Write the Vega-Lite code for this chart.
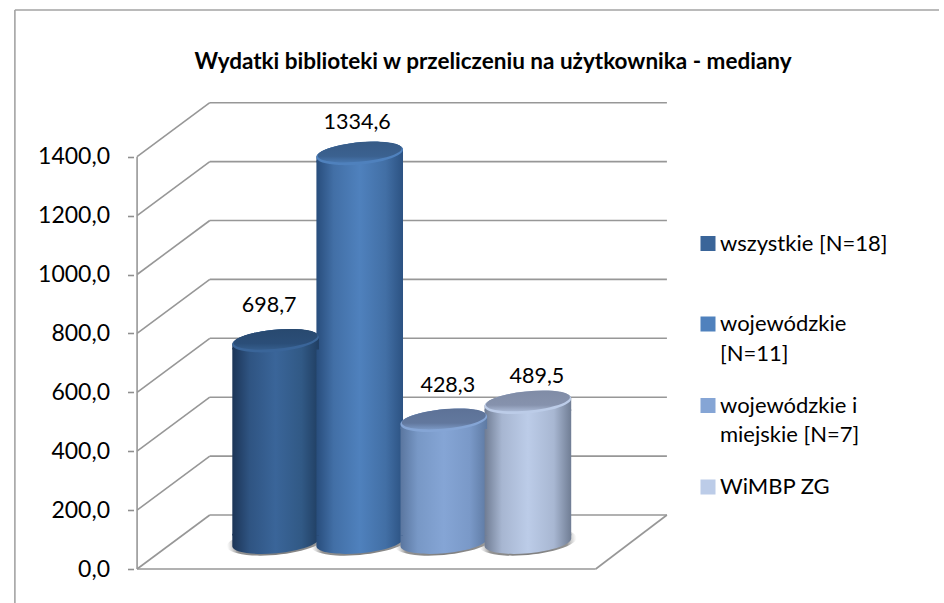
{"$schema":"https://vega.github.io/schema/vega-lite/v6.json","width":944,"height":603,"autosize":"none","padding":0,"background":"white","config":{"view":{"stroke":null},"font":"Lato"},
"title":{"text":"Wydatki biblioteki w przeliczeniu na użytkownika - mediany","font":"Lato","fontSize":22.5,"fontWeight":"bold","color":"#000000","anchor":"middle","dx":21,"dy":77},
"datasets":{"bars":[{"pos":1,"series":"wszystkie [N=18]","value":698.7,"label":"698,7","base":0},{"pos":2,"series":"wojewódzkie [N=11]","value":1334.6,"label":"1334,6","base":0},{"pos":3,"series":"wojewódzkie i miejskie [N=7]","value":428.3,"label":"428,3","base":0},{"pos":4,"series":"WiMBP ZG","value":489.5,"label":"489,5","base":0}],"ticks":[{"v":0},{"v":200},{"v":400},{"v":600},{"v":800},{"v":1000},{"v":1200},{"v":1400}],"floor":[{"v":0}],"top":[{"v":1898}]},
"layer":[
{"data":{"name":"top"},"mark":{"type":"rule","color":"#a3a3a3","strokeWidth":1.6},"encoding":{"y":{"field":"v","type":"quantitative","scale":{"domain":[-115.45,1932.1],"nice":false,"zero":false},"axis":{"values":[0,200,400,600,800,1000,1200,1400],"title":null,"offset":-133.5,"grid":false,"domain":false,"tickSize":6,"tickColor":"#8f8f8f","tickWidth":1.6,"labelFont":"Lato","labelFontSize":23,"labelColor":"#000000","labelPadding":18,"labelExpr":"replace(format(datum.value,'.1f'),'.',',')"}},"x":{"datum":-2.1,"type":"quantitative","scale":{"domain":[-2.2176,8.888],"nice":false,"zero":false},"axis":null},"x2":{"datum":8.888}}},
{"data":{"name":"top"},"mark":{"type":"rule","color":"#a3a3a3","strokeWidth":1.6},"encoding":{"y":{"field":"v","type":"quantitative"},"y2":{"datum":-115.45},"x":{"datum":-2.1,"type":"quantitative"}}},
{"data":{"name":"ticks"},"mark":{"type":"rule","color":"#979797","strokeWidth":1.6,"yOffset":-54},"encoding":{"y":{"field":"v","type":"quantitative"},"x":{"datum":0.2176,"type":"quantitative"},"x2":{"datum":5.6529}}},
{"data":{"name":"ticks"},"mark":{"type":"rule","color":"#979797","strokeWidth":1.6,"y2Offset":-54},"encoding":{"y":{"field":"v","type":"quantitative"},"y2":{"field":"v"},"x":{"datum":-0.6471,"type":"quantitative"},"x2":{"datum":0.2176}}},
{"data":{"name":"floor"},"mark":{"type":"rule","color":"#979797","strokeWidth":1.6},"encoding":{"y":{"field":"v","type":"quantitative"},"x":{"datum":-0.6471,"type":"quantitative"},"x2":{"datum":4.8059}}},
{"data":{"name":"floor"},"mark":{"type":"rule","color":"#979797","strokeWidth":1.6,"y2Offset":-54},"encoding":{"y":{"field":"v","type":"quantitative"},"y2":{"field":"v"},"x":{"datum":4.8059,"type":"quantitative"},"x2":{"datum":5.6529}}},
{"data":{"name":"floor"},"mark":{"type":"rule","color":"#979797","strokeWidth":1.6},"encoding":{"y":{"field":"v","type":"quantitative"},"y2":{"datum":1400},"x":{"datum":-0.6471,"type":"quantitative"}}},
{"data":{"name":"bars"},"mark":{"type":"point","filled":true,"opacity":1,"strokeWidth":0,"shape":"M-0.9955,0.094A1,0.26,-5.4,1,1,0.9955,-0.094A1,0.26,-5.4,1,1,-0.9955,0.094Z","size":9600,"yOffset":-27,"fill":{"gradient":"radial","x1":0.5,"y1":0.5,"r1":0,"x2":0.5,"y2":0.5,"r2":0.5,"stops":[{"offset":0,"color":"rgba(95,95,95,0.85)"},{"offset":0.8,"color":"rgba(110,110,110,0.75)"},{"offset":1,"color":"rgba(170,170,170,0)"}]}},"encoding":{"x":{"field":"pos","type":"quantitative"},"y":{"field":"base","type":"quantitative"}}},
{"data":{"name":"bars"},"mark":{"type":"point","filled":true,"opacity":1,"strokeWidth":0,"shape":"M-0.9955,-0.2L0.9955,-0.2L0.9955,-0.094A1,0.25,-5.4,0,1,-0.9955,0.094Z","size":7569,"yOffset":-26.5},"encoding":{"x":{"field":"pos","type":"quantitative"},"y":{"field":"base","type":"quantitative"},"fill":{"condition":[
{"test":"datum.pos==1","value":{"gradient":"linear","x1":0,"y1":0,"x2":1,"y2":0,"stops":[{"offset":0,"color":"#1c3557"},{"offset":0.2,"color":"#2f5482"},{"offset":0.5,"color":"#3a6599"},{"offset":0.8,"color":"#315985"},{"offset":1,"color":"#203e62"}]}},
{"test":"datum.pos==2","value":{"gradient":"linear","x1":0,"y1":0,"x2":1,"y2":0,"stops":[{"offset":0,"color":"#284d7c"},{"offset":0.2,"color":"#426fa6"},{"offset":0.5,"color":"#4f81bd"},{"offset":0.8,"color":"#426fa5"},{"offset":1,"color":"#2c5282"}]}},
{"test":"datum.pos==3","value":{"gradient":"linear","x1":0,"y1":0,"x2":1,"y2":0,"stops":[{"offset":0,"color":"#5a769f"},{"offset":0.2,"color":"#7898c6"},{"offset":0.5,"color":"#85a5d5"},{"offset":0.8,"color":"#7a99c8"},{"offset":1,"color":"#5e7aa3"}]}}],
"value":{"gradient":"linear","x1":0,"y1":0,"x2":1,"y2":0,"stops":[{"offset":0,"color":"#6f7c93"},{"offset":0.2,"color":"#a7b6d1"},{"offset":0.5,"color":"#bccce8"},{"offset":0.8,"color":"#a8b7d2"},{"offset":1,"color":"#707d94"}]}}}},
{"data":{"name":"bars"},"mark":{"type":"bar","width":86.6,"yOffset":-15.5,"y2Offset":-33.5},"encoding":{"x":{"field":"pos","type":"quantitative"},"y":{"field":"value","type":"quantitative"},"y2":{"field":"base"},"fill":{"condition":[
{"test":"datum.pos==1","value":{"gradient":"linear","x1":0,"y1":0,"x2":1,"y2":0,"stops":[{"offset":0,"color":"#1c3557"},{"offset":0.2,"color":"#2f5482"},{"offset":0.5,"color":"#3a6599"},{"offset":0.8,"color":"#315985"},{"offset":1,"color":"#203e62"}]}},
{"test":"datum.pos==2","value":{"gradient":"linear","x1":0,"y1":0,"x2":1,"y2":0,"stops":[{"offset":0,"color":"#284d7c"},{"offset":0.2,"color":"#426fa6"},{"offset":0.5,"color":"#4f81bd"},{"offset":0.8,"color":"#426fa5"},{"offset":1,"color":"#2c5282"}]}},
{"test":"datum.pos==3","value":{"gradient":"linear","x1":0,"y1":0,"x2":1,"y2":0,"stops":[{"offset":0,"color":"#5a769f"},{"offset":0.2,"color":"#7898c6"},{"offset":0.5,"color":"#85a5d5"},{"offset":0.8,"color":"#7a99c8"},{"offset":1,"color":"#5e7aa3"}]}}],
"value":{"gradient":"linear","x1":0,"y1":0,"x2":1,"y2":0,"stops":[{"offset":0,"color":"#6f7c93"},{"offset":0.2,"color":"#a7b6d1"},{"offset":0.5,"color":"#bccce8"},{"offset":0.8,"color":"#a8b7d2"},{"offset":1,"color":"#707d94"}]}}}},
{"data":{"name":"bars"},"mark":{"type":"point","filled":true,"opacity":1,"strokeWidth":0,"shape":"M-0.9955,0.094A1,0.25,-5.4,1,1,0.9955,-0.094L0.9955,0.2L-0.9955,0.2Z","size":7569,"yOffset":-22.5},"encoding":{"x":{"field":"pos","type":"quantitative"},"y":{"field":"value","type":"quantitative"},"fill":{"condition":[
{"test":"datum.pos==1","value":{"gradient":"linear","x1":0,"y1":0,"x2":1,"y2":0,"stops":[{"offset":0,"color":"#1c3557"},{"offset":0.2,"color":"#2f5482"},{"offset":0.5,"color":"#3a6599"},{"offset":0.8,"color":"#315985"},{"offset":1,"color":"#203e62"}]}},
{"test":"datum.pos==2","value":{"gradient":"linear","x1":0,"y1":0,"x2":1,"y2":0,"stops":[{"offset":0,"color":"#284d7c"},{"offset":0.2,"color":"#426fa6"},{"offset":0.5,"color":"#4f81bd"},{"offset":0.8,"color":"#426fa5"},{"offset":1,"color":"#2c5282"}]}},
{"test":"datum.pos==3","value":{"gradient":"linear","x1":0,"y1":0,"x2":1,"y2":0,"stops":[{"offset":0,"color":"#5a769f"},{"offset":0.2,"color":"#7898c6"},{"offset":0.5,"color":"#85a5d5"},{"offset":0.8,"color":"#7a99c8"},{"offset":1,"color":"#5e7aa3"}]}}],
"value":{"gradient":"linear","x1":0,"y1":0,"x2":1,"y2":0,"stops":[{"offset":0,"color":"#6f7c93"},{"offset":0.2,"color":"#a7b6d1"},{"offset":0.5,"color":"#bccce8"},{"offset":0.8,"color":"#a8b7d2"},{"offset":1,"color":"#707d94"}]}}}},
{"data":{"name":"bars"},"mark":{"type":"point","filled":true,"opacity":1,"strokeWidth":0,"shape":"M-0.9955,0.094A1,0.25,-5.4,1,1,0.9955,-0.094A1,0.25,-5.4,1,1,-0.9955,0.094Z","size":7569,"yOffset":-22.5},"encoding":{"x":{"field":"pos","type":"quantitative"},"y":{"field":"value","type":"quantitative"},"fill":{"field":"series","type":"nominal","sort":null,"legend":{"title":null,"orient":"none","legendX":697,"legendY":203.6,"symbolType":"square","symbolSize":225,"symbolStrokeWidth":0,"labelFont":"Lato","labelFontSize":22,"labelColor":"#000000","labelLimit":400,"labelOffset":1,"clipHeight":80,"rowPadding":0.5,"labelBaseline":"middle","labelExpr":"datum.label=='wojewódzkie [N=11]'?['wojewódzkie','[N=11]']:datum.label=='wojewódzkie i miejskie [N=7]'?['wojewódzkie i','miejskie [N=7]']:datum.label","encoding":{"labels":{"lineHeight":{"value":29.5}},"symbols":{"fill":{"condition":[
{"test":"datum.value=='wszystkie [N=18]'","value":{"gradient":"linear","x1":0,"y1":0,"x2":0,"y2":1,"stops":[{"offset":0,"color":"#223f63"},{"offset":0.55,"color":"#2f5680"},{"offset":1,"color":"#3a6599"}]}},
{"test":"datum.value=='wojewódzkie [N=11]'","value":{"gradient":"linear","x1":0,"y1":0,"x2":0,"y2":1,"stops":[{"offset":0,"color":"#2f5a8d"},{"offset":0.55,"color":"#3f6fa8"},{"offset":1,"color":"#4f81bd"}]}},
{"test":"datum.value=='wojewódzkie i miejskie [N=7]'","value":{"gradient":"linear","x1":0,"y1":0,"x2":0,"y2":1,"stops":[{"offset":0,"color":"#566f97"},{"offset":0.55,"color":"#7a98c6"},{"offset":1,"color":"#85a5d5"}]}}],
"value":{"gradient":"linear","x1":0,"y1":0,"x2":0,"y2":1,"stops":[{"offset":0,"color":"#8a96ad"},{"offset":0.55,"color":"#b0bdd6"},{"offset":1,"color":"#bccce8"}]}}}}},"scale":{"domain":["wszystkie [N=18]","wojewódzkie [N=11]","wojewódzkie i miejskie [N=7]","WiMBP ZG"],"range":["#3a6599","#4f81bd","#85a5d5","#bccce8"]}}}},
{"data":{"name":"bars"},"mark":{"type":"point","filled":true,"opacity":1,"strokeWidth":0,"shape":"M-0.9655,0.06A0.97,0.22,-5.4,1,1,0.9655,-0.125A0.97,0.22,-5.4,1,1,-0.9655,0.06Z","size":7569,"yOffset":-22.5},"encoding":{"x":{"field":"pos","type":"quantitative"},"y":{"field":"value","type":"quantitative"},"fill":{"condition":[
{"test":"datum.pos==1","value":{"gradient":"linear","x1":0,"y1":0,"x2":0,"y2":1,"stops":[{"offset":0,"color":"#28496f"},{"offset":0.7,"color":"#2b4e78"},{"offset":1,"color":"#355d8c"}]}},
{"test":"datum.pos==2","value":{"gradient":"linear","x1":0,"y1":0,"x2":0,"y2":1,"stops":[{"offset":0,"color":"#375b86"},{"offset":0.7,"color":"#3b6190"},{"offset":1,"color":"#4877af"}]}},
{"test":"datum.pos==3","value":{"gradient":"linear","x1":0,"y1":0,"x2":0,"y2":1,"stops":[{"offset":0,"color":"#5d7297"},{"offset":0.7,"color":"#62789e"},{"offset":1,"color":"#7b98c4"}]}}],
"value":{"gradient":"linear","x1":0,"y1":0,"x2":0,"y2":1,"stops":[{"offset":0,"color":"#808ca6"},{"offset":0.7,"color":"#8692ad"},{"offset":1,"color":"#a9b8d4"}]}}}},
{"data":{"name":"bars"},"transform":[{"filter":"datum.pos==1"}],"mark":{"type":"text","font":"Lato","fontSize":21.5,"color":"#000000","dx":-6.5,"dy":-35,"yOffset":-22.5,"baseline":"middle"},"encoding":{"x":{"field":"pos","type":"quantitative"},"y":{"field":"value","type":"quantitative"},"text":{"field":"label"}}},
{"data":{"name":"bars"},"transform":[{"filter":"datum.pos==2"}],"mark":{"type":"text","font":"Lato","fontSize":21.5,"color":"#000000","dx":-2.5,"dy":-30,"yOffset":-22.5,"baseline":"middle"},"encoding":{"x":{"field":"pos","type":"quantitative"},"y":{"field":"value","type":"quantitative"},"text":{"field":"label"}}},
{"data":{"name":"bars"},"transform":[{"filter":"datum.pos==3"}],"mark":{"type":"text","font":"Lato","fontSize":21.5,"color":"#000000","dx":4,"dy":-34,"yOffset":-22.5,"baseline":"middle"},"encoding":{"x":{"field":"pos","type":"quantitative"},"y":{"field":"value","type":"quantitative"},"text":{"field":"label"}}},
{"data":{"name":"bars"},"transform":[{"filter":"datum.pos==4"}],"mark":{"type":"text","font":"Lato","fontSize":21.5,"color":"#000000","dx":9,"dy":-25,"yOffset":-22.5,"baseline":"middle"},"encoding":{"x":{"field":"pos","type":"quantitative"},"y":{"field":"value","type":"quantitative"},"text":{"field":"label"}}}
]}
